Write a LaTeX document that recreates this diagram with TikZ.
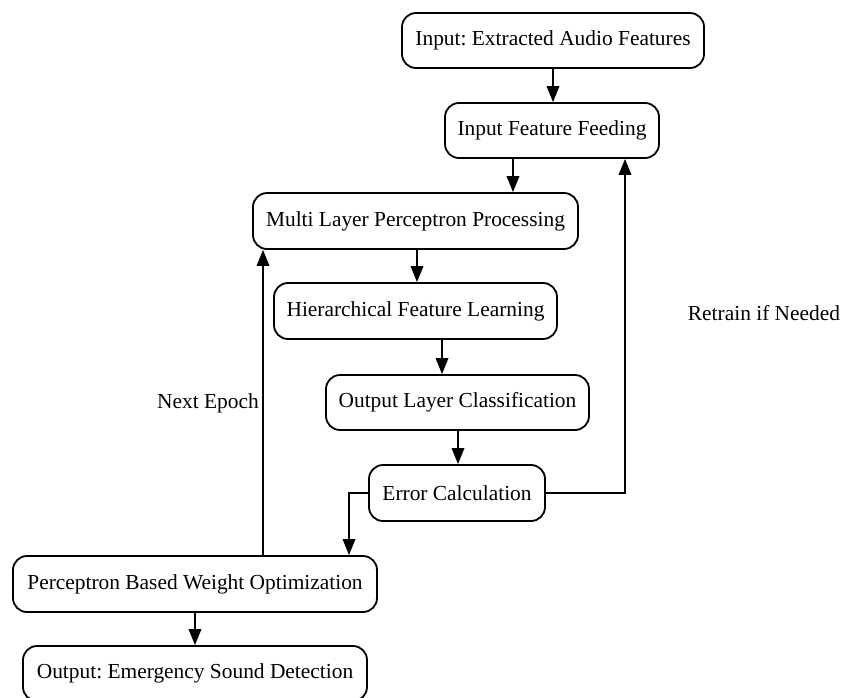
\documentclass[tikz,border=0pt]{standalone}
\usepackage{fontspec}
\setmainfont{Liberation Serif}
\usetikzlibrary{arrows.meta}
\frenchspacing
\begin{document}
\begin{tikzpicture}[x=1pt,y=-1pt,
  every node/.style={font=\fontsize{21.4}{25}\selectfont},
  box/.style={draw, line width=1.8pt, rounded corners=14pt, inner sep=0pt, align=center},
  arr/.style={line width=1.8pt, -{Triangle[length=16pt,width=12.5pt]}}]
\useasboundingbox (0,0) rectangle (844,697);
\fill[white] (0,0) rectangle (844,697);
\node[box, minimum width=302pt, minimum height=55pt] (A) at (553,40.5) {Input: Extracted Audio Features};
\node[box, minimum width=214pt, minimum height=55pt] (B) at (552,130.5) {Input Feature Feeding};
\node[box, minimum width=325pt, minimum height=56pt] (C) at (415.5,221) {Multi Layer Perceptron Processing};
\node[box, minimum width=283pt, minimum height=56pt] (D) at (415.5,311) {Hierarchical Feature Learning};
\node[box, minimum width=263pt, minimum height=55pt] (E) at (457.5,402.5) {Output Layer Classification};
\node[box, minimum width=176pt, minimum height=56pt] (F) at (457,493) {Error Calculation};
\node[box, minimum width=364pt, minimum height=56pt] (G) at (195,584) {Perceptron Based Weight Optimization};
\node[box, minimum width=344pt, minimum height=55pt] (H) at (195,673.5) {Output: Emergency Sound Detection};
\node (retrain) at (764,313) {Retrain if Needed};
\node[anchor=east, inner sep=0pt] (epoch) at (259,403) {Next Epoch};
\coordinate (fr) at (625,493);
\coordinate (fl) at (349,493);
\coordinate (ge) at (263,584);
\draw[arr] (A.south) -- (A.south |- B.north);
\draw[arr] ([xshift=-39pt]B.south) -- ([xshift=-39pt]B.south |- C.north);
\draw[arr] ([xshift=1.5pt]C.south) -- ([xshift=1.5pt]C.south |- D.north);
\draw[arr] ([xshift=26.5pt]D.south) -- ([xshift=26.5pt]D.south |- E.north);
\draw[arr] ([xshift=0.5pt]E.south) -- ([xshift=0.5pt]E.south |- F.north);
\draw[arr] (F.east) -- (fr) -- (fr |- B.south);
\draw[arr] (F.west) -- (fl) -- (fl |- G.north);
\draw[arr] (ge |- G.north) -- (ge |- C.south);
\draw[arr] (G.south) -- (G.south |- H.north);
\end{tikzpicture}
\end{document}
